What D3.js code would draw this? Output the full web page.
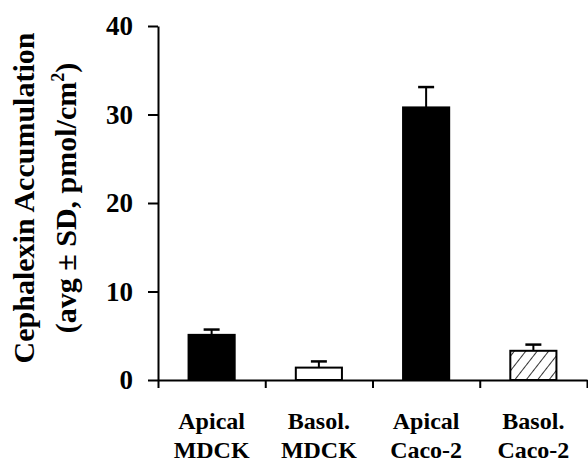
<!DOCTYPE html>
<html>
<head>
<meta charset="utf-8">
<script src="https://cdn.jsdelivr.net/npm/d3@7"></script>
<style>
  html, body { margin: 0; padding: 0; background: #fff; }
  svg { display: block; }
  text { font-family: "Liberation Serif", "Times New Roman", serif; font-weight: bold; fill: #000; }
</style>
</head>
<body>
<svg id="chart" width="588" height="464"></svg>
<script>
// ---- data ----
const categories = ["Apical MDCK", "Basol. MDCK", "Apical Caco-2", "Basol. Caco-2"];
const labelLine1 = ["Apical", "Basol.", "Apical", "Basol."];
const labelLine2 = ["MDCK", "MDCK", "Caco-2", "Caco-2"];
const means = [5.1, 1.4, 30.8, 3.3];
const sds = [0.6, 0.7, 2.3, 0.7];
const fills = ["solid", "white", "solid", "hatch"];
const yTicks = [0, 10, 20, 30, 40];

// ---- layout ----
const svg = d3.select("#chart");
const x0 = 158, x1 = 587, yTop = 26, yBottom = 380;

const y = d3.scaleLinear().domain([0, 40]).range([yBottom, yTop]);
const x = d3.scaleBand().domain(categories).range([x0, x1]).padding(0);
const xb = d3.scaleLinear().domain([0, categories.length]).range([x0, x1]);
const barW = x.bandwidth() * 0.43;

// hatch pattern
const defs = svg.append("defs");
const pat = defs.append("pattern")
  .attr("id", "hatch").attr("patternUnits", "userSpaceOnUse")
  .attr("width", 9).attr("height", 9)
  .attr("patternTransform", "rotate(38)");
pat.append("rect").attr("width", 9).attr("height", 9).attr("fill", "#fff");
pat.append("line").attr("x1", 0).attr("y1", 0).attr("x2", 0).attr("y2", 9)
  .attr("stroke", "#000").attr("stroke-width", 1.6);

// bars
const data = categories.map((c, i) => ({ c, m: means[i], sd: sds[i], f: fills[i] }));
const g = svg.append("g");
g.selectAll("rect.bar").data(data).join("rect")
  .attr("class", "bar")
  .attr("x", d => x(d.c) + (x.bandwidth() - barW) / 2)
  .attr("width", barW)
  .attr("y", d => y(d.m))
  .attr("height", d => y(0) - y(d.m))
  .attr("fill", d => d.f === "solid" ? "#000" : d.f === "hatch" ? "url(#hatch)" : "#fff")
  .attr("stroke", "#000")
  .attr("stroke-width", 2);

// error bars (upper only)
g.selectAll("line.err").data(data).join("line")
  .attr("class", "err")
  .attr("x1", d => x(d.c) + x.bandwidth() / 2)
  .attr("x2", d => x(d.c) + x.bandwidth() / 2)
  .attr("y1", d => y(d.m))
  .attr("y2", d => y(d.m + d.sd))
  .attr("stroke", "#000").attr("stroke-width", 2);
g.selectAll("line.cap").data(data).join("line")
  .attr("class", "cap")
  .attr("x1", d => x(d.c) + x.bandwidth() / 2 - 8)
  .attr("x2", d => x(d.c) + x.bandwidth() / 2 + 8)
  .attr("y1", d => y(d.m + d.sd))
  .attr("y2", d => y(d.m + d.sd))
  .attr("stroke", "#000").attr("stroke-width", 2.5);

// y axis
const yAxis = svg.append("g")
  .attr("transform", `translate(${x0},0)`)
  .call(d3.axisLeft(y).tickValues(yTicks).tickSize(10).tickSizeOuter(0).tickPadding(15));
yAxis.select(".domain").attr("stroke", "#000").attr("stroke-width", 2);
yAxis.selectAll(".tick line").attr("stroke", "#000").attr("stroke-width", 2);
yAxis.selectAll(".tick text")
  .style("font-family", '"Liberation Serif", "Times New Roman", serif')
  .style("font-weight", "bold").style("font-size", "27px").attr("fill", "#000");

// x axis (ticks at category boundaries)
const xAxis = svg.append("g")
  .attr("transform", `translate(0,${yBottom})`)
  .call(d3.axisBottom(xb).tickValues(d3.range(categories.length + 1)).tickSize(8).tickSizeOuter(0).tickFormat(""));
xAxis.select(".domain").attr("stroke", "#000").attr("stroke-width", 2);
xAxis.selectAll(".tick line").attr("stroke", "#000").attr("stroke-width", 2);

// category labels
const lab = svg.append("g");
lab.selectAll("text.l1").data(categories).join("text")
  .attr("class", "l1")
  .attr("x", d => x(d) + x.bandwidth() / 2).attr("y", 429)
  .attr("text-anchor", "middle").style("font-size", "24px")
  .text((d, i) => labelLine1[i]);
lab.selectAll("text.l2").data(categories).join("text")
  .attr("class", "l2")
  .attr("x", d => x(d) + x.bandwidth() / 2).attr("y", 458)
  .attr("text-anchor", "middle").style("font-size", "24px")
  .text((d, i) => labelLine2[i]);

// y title
svg.append("text")
  .attr("transform", "translate(34,198) rotate(-90)")
  .attr("text-anchor", "middle").style("font-size", "30px")
  .text("Cephalexin Accumulation");
const t2 = svg.append("text")
  .attr("transform", "translate(76,198) rotate(-90)")
  .attr("text-anchor", "middle").style("font-size", "30px");
t2.append("tspan").text("(avg \u00B1 SD, pmol/cm");
t2.append("tspan").attr("dy", -12).style("font-size", "18px").text("2");
t2.append("tspan").attr("dy", 12).text(")");
</script>
</body>
</html>
